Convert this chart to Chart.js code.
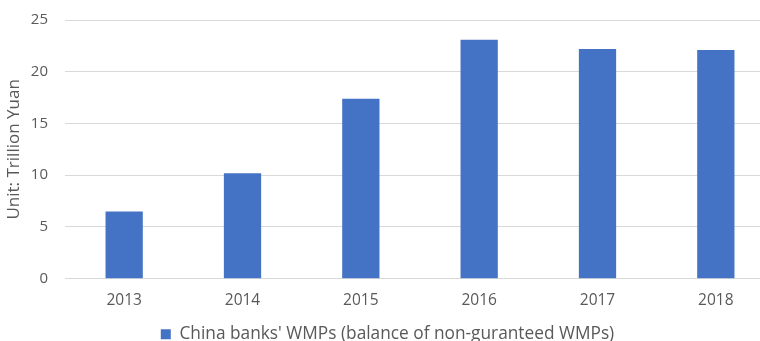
<!DOCTYPE html>
<html>
<head>
<meta charset="utf-8">
<script src="https://cdn.jsdelivr.net/npm/chart.js@4/dist/chart.umd.min.js"></script>
<style>
    html, body { margin: 0; padding: 0; background: #fff; overflow: hidden; }
    .wrap { width: 760px; height: 341px; overflow: hidden; position: relative; }
    .box { width: 775px; height: 341px; position: absolute; left: 0; top: 0; }
</style>
</head>
<body>
<div class="wrap">
    <div class="box"><canvas id="wmpChart"></canvas></div>
</div>
<script>
// Balance of non-guaranteed wealth management products, trillion yuan
const years = ['2013', '2014', '2015', '2016', '2017', '2018'];
const wmpBalance = [6.5, 10.2, 17.4, 23.1, 22.2, 22.1];
const seriesName = "China banks' WMPs (balance of non-guranteed WMPs)";
const axisTitle = 'Unit: Trillion Yuan';

const textColor = '#595959';
const fontFamily = '"Open Sans", "Noto Sans", sans-serif';

document.addEventListener('DOMContentLoaded', function() {
    const ctx = document.getElementById('wmpChart').getContext('2d');
    new Chart(ctx, {
        type: 'bar',
        data: {
            labels: years,
            datasets: [{
                label: seriesName,
                data: wmpBalance,
                backgroundColor: '#4472C4',
                borderWidth: 0,
                categoryPercentage: 0.315,
                barPercentage: 1
            }]
        },
        options: {
            responsive: true,
            maintainAspectRatio: false,
            animation: false,
            layout: {
                // legend sits low, partly past the bottom edge
                padding: { top: 20, left: 0, right: 0, bottom: -12 }
            },
            scales: {
                x: {
                    grid: { display: false },
                    border: { display: false },
                    ticks: {
                        color: textColor,
                        font: { family: fontFamily, size: 15.5 },
                        padding: 5
                    },
                    afterFit: function(scale) {
                        scale.height = 41;
                    }
                },
                y: {
                    min: 0,
                    max: 25,
                    ticks: {
                        stepSize: 5,
                        color: textColor,
                        font: { family: fontFamily, size: 15 },
                        padding: 17
                    },
                    grid: {
                        color: '#d9d9d9',
                        lineWidth: 1,
                        drawTicks: false
                    },
                    border: { display: false },
                    title: {
                        display: true,
                        text: axisTitle,
                        color: textColor,
                        font: { family: fontFamily, size: 17 },
                        padding: { top: 4, bottom: 0 }
                    },
                    afterFit: function(scale) {
                        scale.width = 65;
                        // tick padding would otherwise push the plot top down
                        scale.paddingTop = 9;
                        scale.paddingBottom = 9;
                    }
                }
            },
            plugins: {
                legend: {
                    position: 'bottom',
                    labels: {
                        color: textColor,
                        font: { family: fontFamily, size: 17.3 },
                        boxWidth: 10,
                        boxHeight: 10,
                        padding: 6
                    }
                },
                tooltip: { enabled: false }
            }
        }
    });
});
</script>
</body>
</html>
